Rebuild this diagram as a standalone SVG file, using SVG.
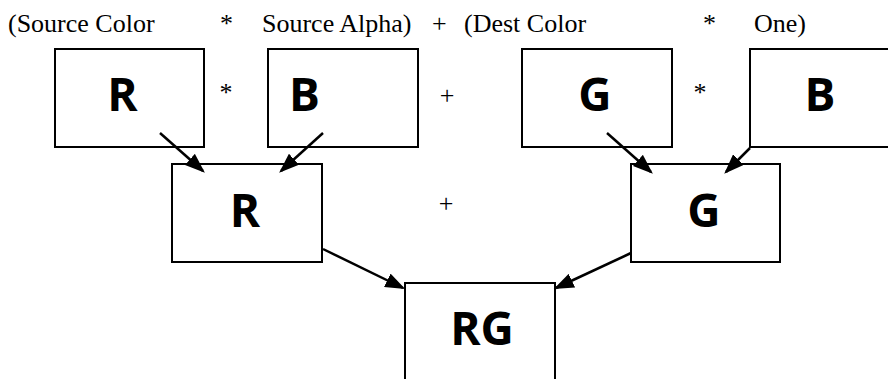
<svg xmlns="http://www.w3.org/2000/svg" width="888" height="379" viewBox="0 0 888 379">
  <style>
    .box { fill: #ffffff; stroke: #000000; stroke-width: 2; }
    .big { font-family: "Open Sans", "Liberation Sans", sans-serif; font-weight: bold; font-size: 46px; fill: #000000; text-anchor: middle; }
    .eq { font-family: "Liberation Serif", "Times New Roman", serif; font-size: 26px; fill: #000000; }
    .op { font-family: "Liberation Serif", "Times New Roman", serif; font-size: 26px; fill: #000000; text-anchor: middle; }
    .edge { stroke: #000000; stroke-width: 2.5; fill: none; marker-end: url(#arrow); }
  </style>
  <defs>
    <marker id="arrow" markerWidth="8" markerHeight="6" refX="7" refY="3" orient="auto" markerUnits="strokeWidth">
      <path d="M0,0 L8,3 L0,6 Z" fill="#000000"/>
    </marker>
  </defs>

  <rect width="888" height="379" fill="#ffffff"/>

  <!-- blend equation heading -->
  <g id="equation">
    <text class="eq" x="8" y="32">(Source Color</text>
    <text class="eq" x="220" y="32">*</text>
    <text class="eq" x="262" y="32">Source Alpha)</text>
    <text class="eq" x="432" y="32">+</text>
    <text class="eq" x="464" y="32">(Dest Color</text>
    <text class="eq" x="703" y="32">*</text>
    <text class="eq" x="754" y="32">One)</text>
  </g>

  <!-- operators between boxes -->
  <g id="operators">
    <text class="op" x="226" y="101">*</text>
    <text class="op" x="447" y="104">+</text>
    <text class="op" x="700" y="101">*</text>
    <text class="op" x="446" y="212">+</text>
  </g>

  <g id="src-color">
    <rect class="box" x="55" y="49" width="149" height="98"/>
    <text class="big" x="122.5" y="111">R</text>
  </g>
  <g id="src-alpha">
    <rect class="box" x="268" y="49" width="150" height="98"/>
    <text class="big" x="304.5" y="111">B</text>
  </g>
  <g id="dest-color">
    <rect class="box" x="522" y="49" width="150" height="98"/>
    <text class="big" x="595" y="111">G</text>
  </g>
  <g id="one">
    <rect class="box" x="750" y="49" width="150" height="98"/>
    <text class="big" x="820" y="111">B</text>
  </g>
  <g id="src-term">
    <rect class="box" x="172" y="164" width="150" height="98"/>
    <text class="big" x="245" y="227">R</text>
  </g>
  <g id="dest-term">
    <rect class="box" x="631" y="164" width="149" height="98"/>
    <text class="big" x="704" y="227">G</text>
  </g>
  <g id="result">
    <rect class="box" x="405" y="283" width="150" height="98"/>
    <text class="big" x="482" y="345">RG</text>
  </g>

  <g id="connectors">
    <line class="edge" x1="160" y1="133" x2="203" y2="171"/>
    <line class="edge" x1="323" y1="133" x2="281" y2="171"/>
    <line class="edge" x1="607" y1="133" x2="651" y2="172"/>
    <line class="edge" x1="750" y1="148" x2="726" y2="172"/>
    <line class="edge" x1="323" y1="249" x2="403" y2="288"/>
    <line class="edge" x1="631" y1="253" x2="556" y2="288"/>
  </g>
</svg>
